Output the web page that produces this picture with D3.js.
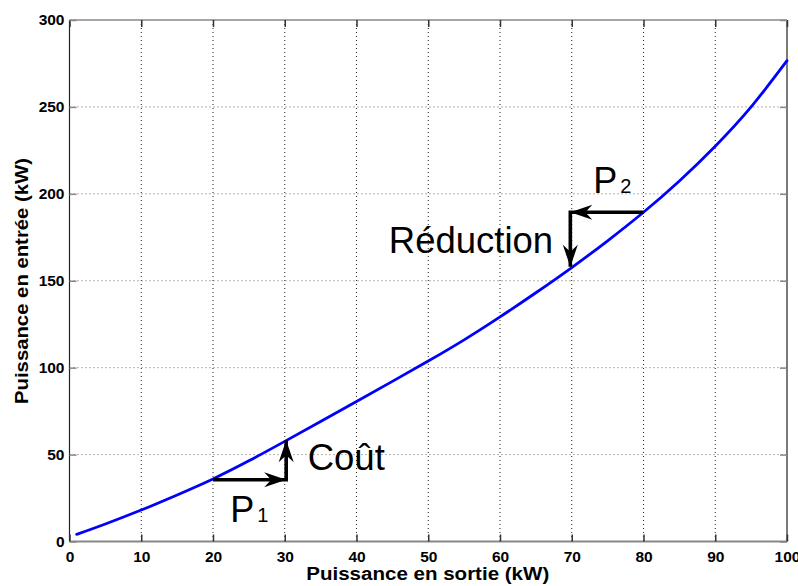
<!DOCTYPE html>
<html>
<head>
<meta charset="utf-8">
<script src="https://cdn.jsdelivr.net/npm/d3@7"></script>
<style>
  html, body { margin: 0; padding: 0; background: #fff; }
  svg { display: block; font-family: "Liberation Sans", Arial, sans-serif; }
</style>
</head>
<body>
<svg id="chart" width="798" height="586"></svg>
<script>
// ---- data ----
const outputPower = [1, 5, 10, 15, 20, 25, 30, 35, 40, 45, 50, 55, 60, 65, 70, 75, 80, 85, 90, 95, 100];
const inputPower  = [4.1, 10.1, 18.1, 26.8, 36.0, 46.4, 57.6, 69.0, 80.5, 92.1, 103.8, 116.0, 129.2, 143.1, 157.6, 173.0, 189.4, 207.4, 227.4, 250.0, 276.6];
const xTicks = [0, 10, 20, 30, 40, 50, 60, 70, 80, 90, 100];
const yTicks = [0, 50, 100, 150, 200, 250, 300];
const xTitle = "Puissance en sortie (kW)";
const yTitle = "Puissance en entrée (kW)";
// annotation arrows: polyline vertices in data units (arrowhead at each segment end)
const arrowP1 = [[20, 35.5], [30.2, 35.5], [30.2, 58.2]];
const arrowP2 = [[80, 189.4], [69.8, 189.4], [69.8, 158.0]];
const labels = [
  { text: "Coût", x: 33.2, y: 41.1, sub: null },
  { text: "Réduction", x: 44.5, y: 165.8, sub: null },
  { text: "P", x: 22.4, y: 11.4, sub: "1" },
  { text: "P", x: 73.0, y: 200.3, sub: "2" }
];

// ---- layout ----
const svg = d3.select("#chart");
const mL = 69.5, mR = 787, mT = 20, mB = 541.5;
const x = d3.scaleLinear().domain([0, 100]).range([mL, mR]);
const y = d3.scaleLinear().domain([0, 300]).range([mB, mT]);

// grid
const grid = svg.append("g");
grid.selectAll("line.vx").data(xTicks.slice(1, -1)).enter().append("line")
  .attr("x1", d => x(d)).attr("x2", d => x(d)).attr("y1", mT).attr("y2", mB)
  .attr("stroke", "#222").attr("stroke-width", 1).attr("stroke-dasharray", "1,3");
grid.selectAll("line.hy").data(yTicks.slice(1, -1)).enter().append("line")
  .attr("y1", d => y(d)).attr("y2", d => y(d)).attr("x1", mL).attr("x2", mR)
  .attr("stroke", "#666").attr("stroke-width", 1).attr("stroke-dasharray", "1,3");

// frame
svg.append("line").attr("x1", mL).attr("x2", mR).attr("y1", mT).attr("y2", mT)
  .attr("stroke", "#888").attr("stroke-width", 1.5);
svg.append("line").attr("x1", mL).attr("x2", mR).attr("y1", mB).attr("y2", mB)
  .attr("stroke", "#888").attr("stroke-width", 2);
svg.append("line").attr("x1", mL).attr("x2", mL).attr("y1", mT).attr("y2", mB)
  .attr("stroke", "#222").attr("stroke-width", 1.2);
svg.append("line").attr("x1", mR).attr("x2", mR).attr("y1", mT).attr("y2", mB)
  .attr("stroke", "#222").attr("stroke-width", 1.2);

// axes (ticks inward)
const xAxis = d3.axisBottom(x).tickValues(xTicks).tickSizeInner(-7).tickSizeOuter(0).tickPadding(9);
const xAxisTop = d3.axisTop(x).tickValues(xTicks).tickSizeInner(-7).tickSizeOuter(0).tickFormat("");
const yAxis = d3.axisLeft(y).tickValues(yTicks).tickSizeInner(-7).tickSizeOuter(0).tickPadding(5);
const yAxisRight = d3.axisRight(y).tickValues(yTicks).tickSizeInner(-7).tickSizeOuter(0).tickFormat("");

function styleAxis(g, col) {
  g.select(".domain").remove();
  g.selectAll(".tick line").attr("stroke", col).attr("stroke-width", 1.5);
  g.selectAll(".tick text").attr("fill", "#000").attr("font-size", 15.5).attr("font-weight", "bold")
    .attr("font-family", "'Liberation Sans', Arial, sans-serif");
}
svg.append("g").attr("transform", `translate(0,${mB})`).call(xAxis).call(g => styleAxis(g, "#333"));
svg.append("g").attr("transform", `translate(0,${mT})`).call(xAxisTop).call(g => styleAxis(g, "#333"));
svg.append("g").attr("transform", `translate(${mL},0)`).call(yAxis).call(g => styleAxis(g, "#888"));
svg.append("g").attr("transform", `translate(${mR},0)`).call(yAxisRight).call(g => styleAxis(g, "#888"));

// axis titles
svg.append("text").attr("x", (mL + mR) / 2 - 0.5).attr("y", 579.5)
  .attr("text-anchor", "middle").attr("font-size", 17.5).attr("font-weight", "bold")
  .attr("textLength", 243).attr("lengthAdjust", "spacingAndGlyphs").text(xTitle);
svg.append("text").attr("transform", "translate(28,281) rotate(-90)")
  .attr("text-anchor", "middle").attr("font-size", 17.5).attr("font-weight", "bold")
  .attr("textLength", 246).attr("lengthAdjust", "spacingAndGlyphs").text(yTitle);

// curve
const line = d3.line().x((d, i) => x(outputPower[i])).y(d => y(d)).curve(d3.curveNatural);
svg.append("path").datum(inputPower).attr("d", line)
  .attr("fill", "none").attr("stroke", "#0000ff").attr("stroke-width", 2.8)
  .attr("stroke-linejoin", "round").attr("stroke-linecap", "round");

// arrows
function drawArrow(pts) {
  const px = pts.map(p => [x(p[0]), y(p[1])]);
  const headLen = 22, headHalf = 7.5, notch = 15;
  const g = svg.append("g");
  g.append("path").attr("d", d3.line()(px)).attr("fill", "none")
    .attr("stroke", "#000").attr("stroke-width", 3.6).attr("stroke-linejoin", "miter").attr("stroke-linecap", "butt");
  for (let i = 1; i < px.length; i++) {
    const [x0, y0] = px[i - 1], [x1, y1] = px[i];
    const a = Math.atan2(y1 - y0, x1 - x0);
    const ca = Math.cos(a), sa = Math.sin(a);
    const pt = (u, v) => [x1 + u * ca - v * sa, y1 + u * sa + v * ca];
    const tip = pt(0, 0), b1 = pt(-headLen, -headHalf), n = pt(-notch, 0), b2 = pt(-headLen, headHalf);
    g.append("path").attr("d", `M${tip}L${b1}L${n}L${b2}Z`).attr("fill", "#000");
  }
}
drawArrow(arrowP1);
drawArrow(arrowP2);

// labels
labels.forEach(l => {
  const t = svg.append("text").attr("x", x(l.x)).attr("y", y(l.y))
    .attr("font-size", l.sub ? 36 : 36.5).attr("fill", "#000").text(l.text);
  if (l.sub) t.append("tspan").attr("dx", 3).attr("font-size", 20).text(l.sub);
});
</script>
</body>
</html>
